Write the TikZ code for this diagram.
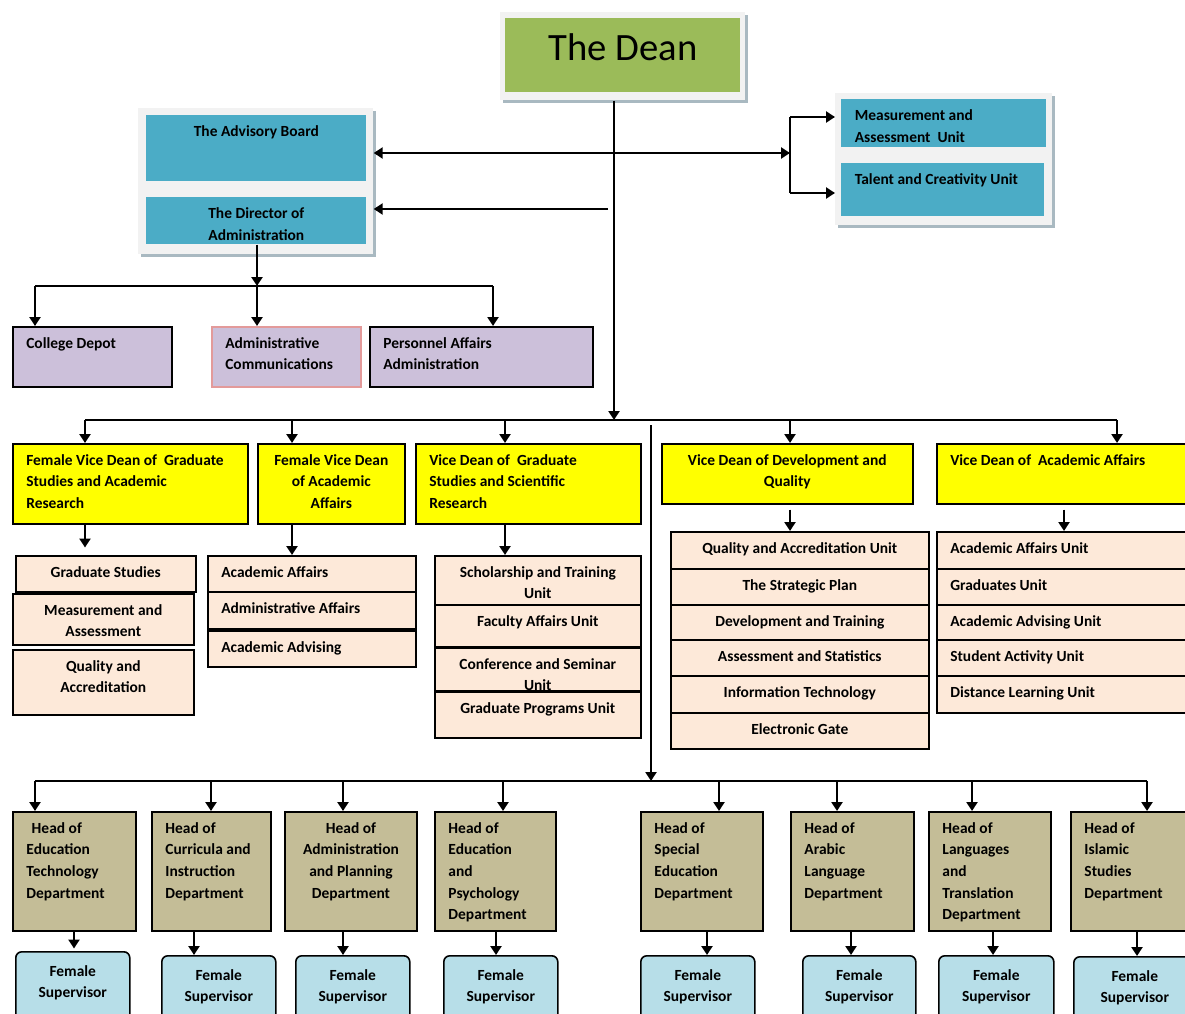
\documentclass[tikz,border=0pt]{standalone}
\usepackage{fontspec}
\setmainfont{Carlito}
\usetikzlibrary{arrows.meta,shadows}
\definecolor{deangreen}{HTML}{9BBB59}
\definecolor{cteal}{HTML}{4BACC6}
\definecolor{framegray}{HTML}{F2F2F2}
\definecolor{shadowc}{HTML}{A9B9C1}
\definecolor{cpurple}{HTML}{CCC0DA}
\definecolor{pinkb}{HTML}{E39A9A}
\definecolor{cyellow}{HTML}{FFFF00}
\definecolor{cpeach}{HTML}{FDE9D9}
\definecolor{ctan}{HTML}{C4BD97}
\definecolor{clblue}{HTML}{B7DEE8}
\newcommand\alignL{\raggedright\leftskip=0.22cm\relax}
\newcommand\supText{\centering\vspace*{0.06cm}Female\\Supervisor}
\newcommand\orgbox[8]{%
  \pgfmathsetmacro\obw{(#4-#2)*0.02}%
  \pgfmathsetmacro\obh{(#5-#3)*0.02}%
  \node[#6,anchor=north west,inner sep=0pt,minimum width=\obw cm,minimum height=\obh cm] (#1) at (#2,#3)
   {\parbox[c][\dimexpr\obh cm-0.42cm\relax][#7]{\dimexpr\obw cm-0.1cm\relax}{#8}};}
\begin{document}
\begin{tikzpicture}[x=0.02cm,y=-0.02cm,
  >={Triangle[length=0.18cm,width=0.22cm]},
  txt/.style={font=\bfseries\fontsize{8.8}{12.3}\selectfont},
  frm/.style={fill=framegray,draw=none,drop shadow={shadow xshift=0.05cm,shadow yshift=-0.05cm,fill=shadowc,opacity=1}},
  deanbox/.style={fill=deangreen,draw=none,font=\fontsize{22}{26}\selectfont},
  tealbox/.style={txt,fill=cteal,draw=none},
  purp/.style={txt,fill=cpurple,draw=black,line width=0.9pt},
  yel/.style={txt,fill=cyellow,draw=black,line width=0.9pt},
  pch/.style={txt,fill=cpeach,draw=black,line width=0.9pt},
  tanbox/.style={txt,fill=ctan,draw=black,line width=1.1pt},
  supbox/.style={txt,fill=clblue,draw=black,line width=0.9pt,rounded corners=0.12cm},
  arr/.style={->,line width=1.6pt},
  conn/.style={line width=1.3pt},
  bus/.style={line width=1.0pt}
]
\useasboundingbox (0,0) rectangle (1185,1013);
\clip (0,0) rectangle (1185,1013);
\fill[white] (0,0) rectangle (1185,1013);

% ---- top level
\orgbox{deanf}{500}{12}{745}{100}{frm}{c}{}
\orgbox{dean}{505}{18}{740}{92}{deanbox}{t}{\centering\vspace*{0.09cm}The Dean}

\orgbox{advf}{138}{108}{373}{254}{frm}{c}{}
\orgbox{adv}{146}{115}{366}{181}{tealbox}{t}{\centering The Advisory Board}
\orgbox{dir}{146}{197}{366}{244}{tealbox}{t}{\centering The Director of\\Administration}

\orgbox{rf}{835}{93}{1052}{225}{frm}{c}{}
\orgbox{mau}{841}{99}{1046}{147}{tealbox}{t}{\alignL Measurement and\\Assessment\ \ Unit}
\orgbox{tcu}{841}{163}{1044}{216}{tealbox}{t}{\alignL Talent and Creativity Unit}

% ---- administration units
\orgbox{cd}{12}{326}{171}{386}{purp}{t}{\alignL College Depot}
\orgbox{ac}{211}{326}{360}{386}{purp,draw=pinkb}{t}{\alignL Administrative\\Communications}
\orgbox{pa}{369}{326}{592}{386}{purp}{t}{\alignL Personnel Affairs\\Administration}

% ---- vice deans
\orgbox{vd1}{12}{443}{247}{523}{yel}{t}{\alignL Female Vice Dean of\ \ Graduate\\Studies and Academic\\Research}
\orgbox{vd2}{257}{443}{404}{523}{yel}{t}{\centering Female Vice Dean\\of Academic\\Affairs}
\orgbox{vd3}{415}{443}{640}{523}{yel}{t}{\alignL Vice Dean of\ \ Graduate\\Studies and Scientific\\Research}
\orgbox{vd4}{661}{443}{912}{503}{yel}{t}{\centering Vice Dean of Development and\\Quality}
\orgbox{vd5}{936}{443}{1195}{503}{yel}{t}{\alignL Vice Dean of\ \ Academic Affairs}

% ---- units column 1
\orgbox{g1a}{15}{555}{195}{591}{pch}{t}{\centering Graduate Studies}
\orgbox{g1b}{12}{593}{193}{644}{pch}{t}{\centering Measurement and\\Assessment}
\orgbox{g1c}{12}{649}{193}{714}{pch}{t}{\centering Quality and\\Accreditation}
% column 2
\orgbox{g2a}{207}{555}{415}{591}{pch}{t}{\alignL Academic Affairs}
\orgbox{g2b}{207}{591}{415}{628}{pch}{t}{\alignL Administrative Affairs}
\orgbox{g2c}{207}{630}{415}{666}{pch}{t}{\alignL Academic Advising}
% column 3
\orgbox{g3a}{434}{555}{640}{604}{pch}{t}{\centering Scholarship and Training\\Unit}
\orgbox{g3b}{434}{604}{640}{646}{pch}{t}{\centering Faculty Affairs Unit}
\orgbox{g3c}{434}{647}{640}{690}{pch}{t}{\centering Conference and Seminar\\Unit}
\orgbox{g3d}{434}{691}{640}{737}{pch}{t}{\centering Graduate Programs Unit}
% column 4
\orgbox{g4a}{670}{531}{928}{568}{pch}{t}{\centering Quality and Accreditation Unit}
\orgbox{g4b}{670}{568}{928}{604}{pch}{t}{\centering The Strategic Plan}
\orgbox{g4c}{670}{604}{928}{639}{pch}{t}{\centering Development and Training}
\orgbox{g4d}{670}{639}{928}{675}{pch}{t}{\centering Assessment and Statistics}
\orgbox{g4e}{670}{675}{928}{712}{pch}{t}{\centering Information Technology}
\orgbox{g4f}{670}{712}{928}{748}{pch}{t}{\centering Electronic Gate}
% column 5
\orgbox{g5a}{936}{531}{1195}{568}{pch}{t}{\alignL Academic Affairs Unit}
\orgbox{g5b}{936}{568}{1195}{604}{pch}{t}{\alignL Graduates Unit}
\orgbox{g5c}{936}{604}{1195}{639}{pch}{t}{\alignL Academic Advising Unit}
\orgbox{g5d}{936}{639}{1195}{675}{pch}{t}{\alignL Student Activity Unit}
\orgbox{g5e}{936}{675}{1195}{712}{pch}{t}{\alignL Distance Learning Unit}

% ---- department heads
\orgbox{h1}{12}{811}{135}{930}{tanbox}{t}{\alignL\hspace*{3pt}Head of\\Education\\Technology\\Department}
\orgbox{h2}{151}{811}{270}{930}{tanbox}{t}{\alignL Head of\\Curricula and\\Instruction\\Department}
\orgbox{h3}{284}{811}{416}{930}{tanbox}{t}{\centering Head of\\Administration\\and Planning\\Department}
\orgbox{h4}{434}{811}{555}{930}{tanbox}{t}{\alignL Head of\\Education\\and\\Psychology\\Department}
\orgbox{h5}{640}{811}{762}{930}{tanbox}{t}{\alignL Head of\\Special\\Education\\Department}
\orgbox{h6}{790}{811}{913}{930}{tanbox}{t}{\alignL Head of\\Arabic\\Language\\Department}
\orgbox{h7}{928}{811}{1050}{930}{tanbox}{t}{\alignL Head of\\Languages\\and\\Translation\\Department}
\orgbox{h8}{1070}{811}{1195}{930}{tanbox}{t}{\alignL Head of\\Islamic\\Studies\\Department}

% ---- supervisors
\orgbox{s1}{15}{951}{129}{1020}{supbox}{t}{\supText}
\orgbox{s2}{161}{955}{275}{1024}{supbox}{t}{\supText}
\orgbox{s3}{295}{955}{409}{1024}{supbox}{t}{\supText}
\orgbox{s4}{443}{955}{557}{1024}{supbox}{t}{\supText}
\orgbox{s5}{640}{955}{754}{1024}{supbox}{t}{\supText}
\orgbox{s6}{802}{955}{915}{1024}{supbox}{t}{\supText}
\orgbox{s7}{938}{955}{1053}{1024}{supbox}{t}{\supText}
\orgbox{s8}{1073}{956}{1195}{1024}{supbox}{t}{\supText}

% ================= connectors
% Dean to main bus
\coordinate (busM) at (614,420);
\draw[arr] (deanf.south -| busM) -- (busM);
% Dean to advisory board and right units
\coordinate (jA) at (614,153);
\coordinate (jR) at (790,153);
\draw[arr,<->] (jA -| advf.east) -- (jR);
\coordinate (bT) at (790,117);
\coordinate (bB) at (790,193);
\draw[conn] (bT) -- (bB);
\draw[arr] (bT) -- (bT -| rf.west);
\draw[arr] (bB) -- (bB -| rf.west);
% Dean to director
\coordinate (jD) at (608,209);
\draw[arr] (jD) -- (jD -| advf.east);
% Director to its units
\coordinate (dB) at (257,286);
\coordinate (d1) at (35,286);
\coordinate (d3) at (493,286);
\draw[arr] (dir.south -| dB) -- (dB);
\draw[conn] (d1) -- (d3);
\draw[arr] (d1) -- (d1 |- cd.north);
\draw[arr] (dB) -- (dB |- ac.north);
\draw[arr] (d3) -- (d3 |- pa.north);
% main bus to vice deans
\coordinate (m1) at (85,420);
\coordinate (m2) at (292,420);
\coordinate (m3) at (505,420);
\coordinate (m4) at (790,420);
\coordinate (m5) at (1117,420);
\draw[bus] (m1) -- (m5);
\draw[arr] (m1) -- (m1 |- vd1.north);
\draw[arr] (m2) -- (m2 |- vd2.north);
\draw[arr] (m3) -- (m3 |- vd3.north);
\draw[arr] (m4) -- (m4 |- vd4.north);
\draw[arr] (m5) -- (m5 |- vd5.north);
% vice deans to their units
\coordinate (u5) at (1064,0);
\draw[arr,shorten >=0.15cm] (vd1.south -| m1) -- (g1a.north -| m1);
\draw[arr] (vd2.south -| m2) -- (g2a.north -| m2);
\draw[arr] (vd3.south -| m3) -- (g3a.north -| m3);
\draw[arr,shorten <=0.1cm] (vd4.south -| m4) -- (g4a.north -| m4);
\draw[arr,shorten <=0.1cm] (vd5.south -| u5) -- (g5a.north -| u5);
% second trunk to department bus
\coordinate (v2t) at (651,425);
\coordinate (busB) at (651,781);
\draw[arr] (v2t) -- (busB);
\coordinate (b1) at (35,781);
\coordinate (b2) at (211,781);
\coordinate (b3) at (343,781);
\coordinate (b4) at (503,781);
\coordinate (b5) at (719,781);
\coordinate (b6) at (837,781);
\coordinate (b7) at (972,781);
\coordinate (b8) at (1147,781);
\draw[bus] (b1) -- (b8);
\foreach \i in {1,...,8} { \draw[arr] (b\i) -- (b\i |- h\i.north); }
% heads to supervisors
\coordinate (t1) at (74,0);
\coordinate (t2) at (194,0);
\coordinate (t3) at (343,0);
\coordinate (t4) at (496,0);
\coordinate (t5) at (707,0);
\coordinate (t6) at (851,0);
\coordinate (t7) at (993,0);
\coordinate (t8) at (1137,0);
\draw[arr,shorten >=0.05cm] (h1.south -| t1) -- (s1.north -| t1);
\foreach \i in {2,...,8} { \draw[arr] (h\i.south -| t\i) -- (s\i.north -| t\i); }
\end{tikzpicture}
\end{document}
